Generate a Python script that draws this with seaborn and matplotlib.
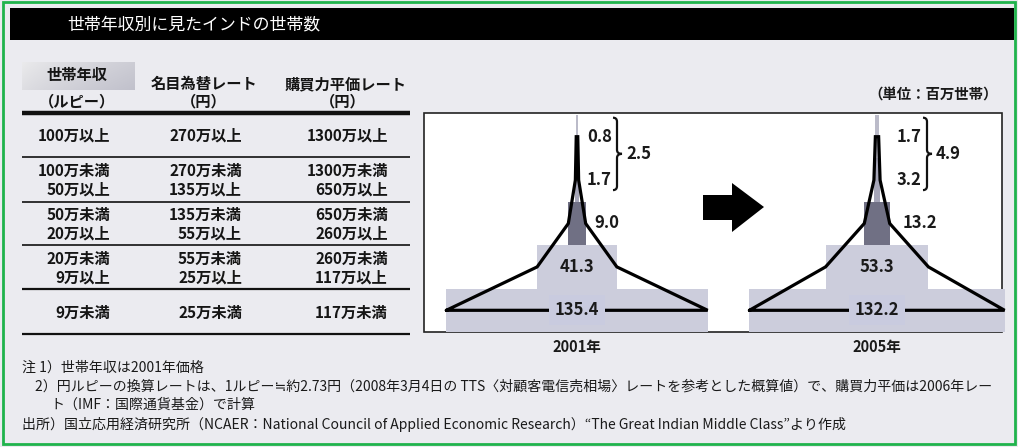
import numpy as np
import pandas as pd
import matplotlib
matplotlib.use("Agg")
import matplotlib.pyplot as plt
import seaborn as sns
from matplotlib.patches import Rectangle, Polygon, PathPatch
from matplotlib.path import Path

# ---------------- data ----------------
title = "世帯年収別に見たインドの世帯数"
tiers = ["100万以上", "50万～100万", "20万～50万", "9万～20万", "9万未満"]
households_2001 = [0.8, 1.7, 9.0, 41.3, 135.4]
households_2005 = [1.7, 3.2, 13.2, 53.3, 132.2]
year_labels = ["2001年", "2005年"]
unit_label = "（単位：百万世帯）"

headers = [["世帯年収", "（ルピー）"], ["名目為替レート", "（円）"], ["購買力平価レート", "（円）"]]
income_rupee = [["100万以上"], ["100万未満", "50万以上"], ["50万未満", "20万以上"],
                ["20万未満", "9万以上"], ["9万未満"]]
nominal_yen = [["270万以上"], ["270万未満", "135万以上"], ["135万未満", "55万以上"],
               ["55万未満", "25万以上"], ["25万未満"]]
ppp_yen = [["1300万以上"], ["1300万未満", "650万以上"], ["650万未満", "260万以上"],
           ["260万未満", "117万以上"], ["117万未満"]]

notes = [
    "注 1）世帯年収は2001年価格",
    "2）円ルピーの換算レートは、1ルピー≒約2.73円（2008年3月4日の TTS〈対顧客電信売相場〉レートを参考とした概算値）で、購買力平価は2006年レー",
    "ト（IMF：国際通貨基金）で計算",
    "出所）国立応用経済研究所（NCAER：National Council of Applied Economic Research）“The Great Indian Middle Class”より作成",
]

tier_colors = ["#b9b9cb", "#a3a3bb", "#6d6c88", "#c9cbdf", "#c9cbdf"]

# ---------------- style ----------------
sns.set_theme(style="white")
plt.rcParams["font.family"] = ["Noto Sans CJK JP", "DejaVu Sans"]

W, H = 1018, 447
BG = "#ebebf0"
fig = plt.figure(figsize=(W / 100, H / 100), dpi=100, facecolor=BG)

# full-figure canvas in pixel units (y downward)
ax0 = fig.add_axes([0, 0, 1, 1], zorder=0)
ax0.set_xlim(0, W)
ax0.set_ylim(H, 0)
ax0.axis("off")
ax0.set_facecolor(BG)

# outer frame and title bar
ax0.add_patch(Rectangle((3, 2), 1012, 442, fill=False, edgecolor="#1fb34c", lw=2))
ax0.add_patch(Rectangle((10, 8), 1004, 32, facecolor="black", edgecolor="none"))
ax0.text(67, 24.5, title, color="white", fontsize=12.2, va="center", ha="left")

# ---------------- table ----------------
grad_x = np.linspace(0, 1, 120)
grad_y = np.linspace(0, 1, 30)[:, None]
grad = 0.1 + 0.5 * grad_x[None, :] ** 0.8 + 0.2 * grad_y
ax0.imshow(grad, extent=(22, 135, 90, 62), cmap=sns.light_palette("#a9a9b9", as_cmap=True),
           vmin=0, vmax=1.2, aspect="auto", zorder=1, interpolation="bilinear")
ax0.set_xlim(0, W)
ax0.set_ylim(H, 0)

tfont = dict(fontsize=11, fontweight="bold", color="#151515")
ax0.text(77, 75, headers[0][0], ha="center", va="center", zorder=2, **tfont)
ax0.text(77, 101, headers[0][1], ha="center", va="center", zorder=2, **tfont)
ax0.text(204, 84, headers[1][0], ha="center", va="center", **tfont)
ax0.text(204, 101, headers[1][1], ha="center", va="center", **tfont)
ax0.text(346, 84, headers[2][0], ha="center", va="center", **tfont)
ax0.text(343, 101, headers[2][1], ha="center", va="center", **tfont)

row_lines = [113, 157, 202, 245, 289, 334]
line_w = [3.2, 1.2, 1.2, 1.2, 1.6, 1.6]
for y, lw in zip(row_lines, line_w):
    ax0.plot([22, 410], [y, y], color="#111111", lw=lw, solid_capstyle="butt")

col_right = [110, 242, 388]
for r in range(len(income_rupee)):
    mid = (row_lines[r] + row_lines[r + 1]) / 2 + 1
    for c, col in enumerate([income_rupee, nominal_yen, ppp_yen]):
        lines = col[r]
        if len(lines) == 1:
            ax0.text(col_right[c], mid, lines[0], ha="right", va="center", **tfont)
        else:
            ax0.text(col_right[c], mid - 9.5, lines[0], ha="right", va="center", **tfont)
            ax0.text(col_right[c], mid + 9.5, lines[1], ha="right", va="center", **tfont)

# ---------------- pyramids ----------------
BOX_L, BOX_R, BOX_T, BOX_B = 424, 1002, 113, 332
ax0.add_patch(Rectangle((BOX_L, BOX_T), BOX_R - BOX_L, BOX_B - BOX_T,
                        facecolor="white", edgecolor="#222222", lw=1.2, zorder=1))
ax0.text(998, 96, unit_label, ha="right", va="center", fontsize=10.4, fontweight="bold", color="#1a1a1a")

PX_PER_UNIT = 1.93
HALF_SPAN = 70
TIER_TOP, TIER_BOT = 115, 332
tier_h = (TIER_BOT - TIER_TOP) / len(tiers)


def tier_y(i):
    return TIER_TOP + (i + 0.5) * tier_h


def brace(ax, x, y0, y1, ym, depth=5):
    verts = [(x - 4, y0), (x, y0), (x, y0 + 4), (x, ym - 4), (x, ym), (x + depth, ym),
             (x, ym), (x, ym + 4), (x, y1 - 4), (x, y1), (x - 4, y1)]
    codes = [Path.MOVETO, Path.CURVE3, Path.CURVE3, Path.LINETO, Path.CURVE3, Path.CURVE3,
             Path.CURVE3, Path.CURVE3, Path.LINETO, Path.CURVE3, Path.CURVE3]
    ax.add_patch(PathPatch(Path(verts, codes), fill=False, edgecolor="#111111", lw=1.6, zorder=3))


lfont = dict(fontsize=12, fontweight="bold", color="#1a1a1a")
panels = [
    (households_2001, 577, year_labels[0], 10, 40),
    (households_2005, 877, year_labels[1], 20, 50),
]
palette = dict(zip(tiers, tier_colors))

for values, cx, ylab, top_off, brace_off in panels:
    left = (cx - HALF_SPAN * PX_PER_UNIT) / W
    width = 2 * HALF_SPAN * PX_PER_UNIT / W
    bottom = 1 - TIER_BOT / H
    height = (TIER_BOT - TIER_TOP) / H
    ax = fig.add_axes([left, bottom, width, height], zorder=2)
    ax.patch.set_alpha(0)

    df = pd.DataFrame({"tier": tiers, "value": values})
    df["right"] = df["value"] / 2
    df["left"] = -df["value"] / 2
    for side in ["right", "left"]:
        sns.barplot(data=df, x=side, y="tier", hue="tier", palette=palette, order=tiers,
                    hue_order=tiers, width=1.0, orient="h", errorbar=None, legend=False,
                    linewidth=0, ax=ax)

    # outline connecting the tier edges at mid-height
    v = np.asarray(values)
    idx = np.arange(len(v))
    xs = np.concatenate([-v[::-1] / 2, v / 2, [-v[-1] / 2]])
    ys = np.concatenate([idx[::-1], idx, [idx[-1]]])
    ax.plot(xs, ys, color="black", lw=2.3, solid_joinstyle="miter", clip_on=False, zorder=5)

    ax.set_xlim(-HALF_SPAN, HALF_SPAN)
    ax.set_ylim(len(tiers) - 0.5, -0.5)
    ax.axis("off")

    # value labels
    n = len(v)
    ax.text(0, n - 1, f"{v[-1]:.1f}", ha="center", va="center", zorder=6,
            bbox=dict(boxstyle="square,pad=0.35", facecolor=tier_colors[-1], edgecolor="none"), **lfont)
    ax.text(0, n - 2, f"{v[-2]:.1f}", ha="center", va="center", zorder=6, **lfont)
    ax.text(v[2], 2, f"{v[2]:.1f}", ha="left", va="center", zorder=6, **lfont)
    ax.text(top_off / PX_PER_UNIT, 0, f"{v[0]:.1f}", ha="left", va="center", zorder=6, **lfont)
    ax.text(top_off / PX_PER_UNIT, 1, f"{v[1]:.1f}", ha="left", va="center", zorder=6, **lfont)

    # bracket and combined total for the two highest tiers
    y0, y1 = tier_y(0) - 19, tier_y(1) + 10
    ym = (y0 + y1) / 2
    brace(ax0, cx + brace_off, y0, y1, ym)
    ax0.text(cx + brace_off + 9, ym, f"{v[0] + v[1]:.1f}", ha="left", va="center", **lfont)

    ax0.text(cx, 347, ylab, ha="center", va="center", fontsize=10.5, fontweight="bold", color="#1a1a1a")

# block arrow between the two years
ax0.add_patch(Polygon([(703, 195), (732, 195), (732, 183), (764, 207), (732, 232), (732, 220), (703, 220)],
                      closed=True, facecolor="black", edgecolor="none", zorder=3))

# ---------------- notes ----------------
nfont = dict(fontsize=10.05, color="#1a1a1a", va="center", ha="left")
ax0.text(22, 368, notes[0], **nfont)
ax0.text(35, 387, notes[1], **nfont)
ax0.text(50, 405, notes[2], **nfont)
ax0.text(22, 425, notes[3], **nfont)

fig.savefig("out.png", dpi=100, facecolor=BG)
